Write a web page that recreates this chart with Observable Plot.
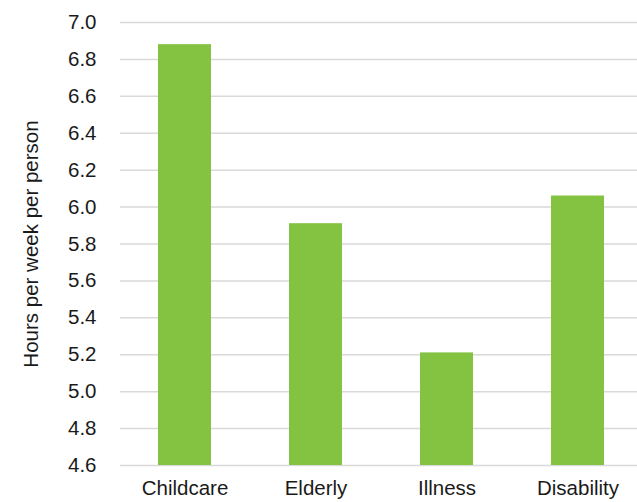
<!DOCTYPE html>
<html>
<head>
<meta charset="utf-8">
<script src="https://cdn.jsdelivr.net/npm/d3@7"></script>
<script src="https://cdn.jsdelivr.net/npm/@observablehq/plot@0.6"></script>
<style>
  html, body { margin: 0; padding: 0; background: #fff; }
  #chart { width: 637px; height: 502px; }
</style>
</head>
<body>
<div id="chart"></div>
<script>
const categories = ["Childcare", "Elderly", "Illness", "Disability"];
const hours = [6.88, 5.91, 5.21, 6.06];
const yTicks = [4.6, 4.8, 5.0, 5.2, 5.4, 5.6, 5.8, 6.0, 6.2, 6.4, 6.6, 6.8, 7.0];
const yLabel = "Hours per week per person";

const data = categories.map((c, i) => ({category: c, value: hours[i]}));

const font = "'Liberation Sans', Arial, sans-serif";
const textColor = "#1a1a1a";

const chart = Plot.plot({
  width: 637,
  height: 502,
  marginTop: 22,
  marginBottom: 37,
  marginLeft: 120,
  marginRight: 0,
  style: {fontFamily: font, fontSize: "20.5px", color: textColor, background: "#fff"},
  x: {domain: categories, range: [118, 645], paddingInner: 0.592, paddingOuter: 0.296, align: 0.5},
  y: {domain: [4.6, 7.0], clamp: true},
  marks: [
    Plot.gridY(yTicks, {stroke: "#d9d9d9", strokeOpacity: 1, strokeWidth: 1.5}),
    Plot.barY(data, {x: "category", y1: 4.6, y2: "value", fill: "#83c341"}),
    Plot.axisY(yTicks, {
      tickSize: 0, tickPadding: 24, dy: 0,
      tickFormat: d => d.toFixed(1),
      fontSize: 20.5, fill: textColor,
      label: yLabel, labelAnchor: "center", labelOffset: 97, labelArrow: "none"
    }),
    Plot.axisX({
      tickSize: 0, tickPadding: 15, fontSize: 20.5, fill: textColor, label: null
    })
  ]
});
document.getElementById("chart").appendChild(chart);
</script>
</body>
</html>
